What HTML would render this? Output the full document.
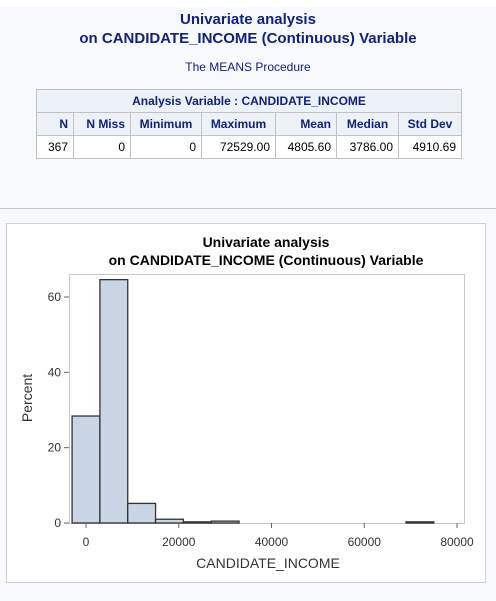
<!DOCTYPE html>
<html><head><meta charset="utf-8"><style>
body{margin:0;width:496px;height:601px;background:#f8f9fd;font-family:"Liberation Sans",sans-serif;position:relative;overflow:hidden}
.t{position:absolute;left:0;width:496px;text-align:center;color:#112277;font-weight:bold}
table{position:absolute;left:36px;top:89px;border-collapse:collapse;font-size:12px;color:#000}
td,th{border:1px solid #c1c1c1;height:22px;padding:0 5px;text-align:right}
th{background:#edf2f9;color:#112277;font-weight:bold}
td{background:#fff}
</style></head><body>
<div style="position:absolute;left:0;top:0;width:496px;height:7px;background:#fff"></div>
<div class="t" style="top:10px;font-size:15px;line-height:19px">Univariate analysis<br>on CANDIDATE_INCOME (Continuous) Variable</div>
<div class="t" style="top:60px;font-size:12px;font-weight:normal">The MEANS Procedure</div>
<table>
<tr><th colspan="7" style="text-align:center">Analysis Variable : CANDIDATE_INCOME</th></tr>
<tr><th style="width:26px">N</th><th style="width:46px">N Miss</th><th style="width:60px;text-align:center">Minimum</th><th style="width:63px;text-align:center">Maximum</th><th style="width:50px">Mean</th><th style="width:51px;text-align:center">Median</th><th style="width:52px;text-align:center">Std Dev</th></tr>
<tr><td>367</td><td>0</td><td>0</td><td>72529.00</td><td>4805.60</td><td>3786.00</td><td>4910.69</td></tr>
</table>
<div style="position:absolute;left:0;top:208px;width:496px;height:1px;background:#c8c8c8"></div>
<svg id="c" style="position:absolute;left:0;top:0" width="496" height="601">
<rect x="6.5" y="223.5" width="479" height="359" fill="#fff" stroke="#d0d0d0"/>
<text x="266" y="247" text-anchor="middle" font-size="14" font-weight="bold" fill="#000">Univariate analysis</text>
<text x="266" y="265" text-anchor="middle" font-size="14" font-weight="bold" fill="#000">on CANDIDATE_INCOME (Continuous) Variable</text>
<rect x="69.5" y="274.5" width="395" height="249" fill="none" stroke="#c8c8c8"/>
<text transform="translate(32,398) rotate(-90)" text-anchor="middle" font-size="14" fill="#333">Percent</text>
<text x="268" y="568" text-anchor="middle" font-size="14" fill="#333">CANDIDATE_INCOME</text>
<g id="g"></g>
</svg>
<script>
const binCenters=[0,6000,12000,18000,24000,30000,36000,42000,48000,54000,60000,66000,72000];
const percents=[28.4,64.6,5.2,1.0,0.3,0.5,0,0,0,0,0,0,0.3];
const yTicks=[0,20,40,60];
const xTicks=[0,20000,40000,60000,80000];
const binWidth=6000;
const X=v=>86+v*0.0046375, Y=v=>523-v*3.767;
const g=document.getElementById('g'),NS='http://www.w3.org/2000/svg';
function mk(t,a){const e=document.createElementNS(NS,t);for(const k in a)e.setAttribute(k,a[k]);g.appendChild(e);return e;}
binCenters.forEach((c,i)=>{
 const x0=X(c-binWidth/2),x1=X(c+binWidth/2),y=Y(percents[i]);
 const r=mk('rect',{x:x0,y:y,width:x1-x0,height:523-y,fill:'#c9d5e5',stroke:'#333','stroke-width':1.3});
 
 
});
yTicks.forEach(v=>{
 const l=mk('line',{x1:64,x2:69,y1:Y(v),y2:Y(v),stroke:'#666'});
 
 
 const t=mk('text',{x:61,y:Y(v)+4,'text-anchor':'end','font-size':12,fill:'#333'});t.textContent=v;
 
 
});
xTicks.forEach(v=>{
 const l=mk('line',{x1:X(v),x2:X(v),y1:523,y2:528,stroke:'#666'});
 
 
 const t=mk('text',{x:X(v),y:546,'text-anchor':'middle','font-size':12,fill:'#333'});t.textContent=v;
 
 
});
</script>
</body></html>
